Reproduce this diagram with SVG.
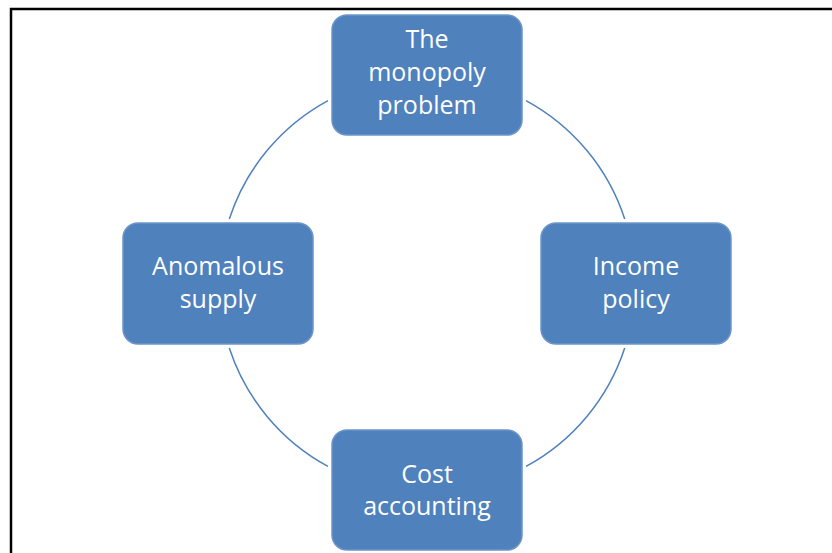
<svg xmlns="http://www.w3.org/2000/svg" width="832" height="553" viewBox="0 0 832 553">
  <style>
    .box { fill: #4F81BD; stroke: #6B95C8; stroke-width: 1.5; }
    .lbl { fill: #FFFFFF; font-family: "Open Sans", "Noto Sans", "Liberation Sans", sans-serif; font-size: 25px; text-anchor: middle; }
    .arc { fill: none; stroke: #4F81BD; stroke-width: 1.5; }
  </style>
  <rect x="0" y="0" width="832" height="553" fill="#FFFFFF"/>
  <path d="M11,553 V9 H832" fill="none" stroke="#000000" stroke-width="2.5"/>
  <g id="connectors">
    <path class="arc" d="M526,100.6 A208,208 0 0 1 624.7,219"/>
    <path class="arc" d="M624.7,348 A208,208 0 0 1 526,466.4"/>
    <path class="arc" d="M328,466.4 A208,208 0 0 1 229.3,348"/>
    <path class="arc" d="M229.3,219 A208,208 0 0 1 328,100.6"/>
  </g>
  <g id="node-monopoly">
    <rect class="box" x="332" y="15" width="190" height="120" rx="15"/>
    <text class="lbl" x="427" y="48">The</text>
    <text class="lbl" x="427" y="81">monopoly</text>
    <text class="lbl" x="427" y="114">problem</text>
  </g>
  <g id="node-income">
    <rect class="box" x="541" y="223" width="190" height="121" rx="15"/>
    <text class="lbl" x="636" y="275">Income</text>
    <text class="lbl" x="636" y="308">policy</text>
  </g>
  <g id="node-cost">
    <rect class="box" x="332" y="430" width="190" height="120" rx="15"/>
    <text class="lbl" x="427" y="483">Cost</text>
    <text class="lbl" x="427" y="515">accounting</text>
  </g>
  <g id="node-anomalous">
    <rect class="box" x="123" y="223" width="190" height="121" rx="15"/>
    <text class="lbl" x="218" y="275">Anomalous</text>
    <text class="lbl" x="218" y="308">supply</text>
  </g>
</svg>
